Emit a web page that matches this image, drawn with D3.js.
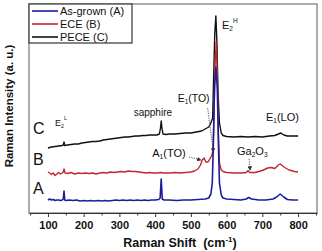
<!DOCTYPE html>
<html>
<head>
<meta charset="utf-8">
<script src="https://cdn.jsdelivr.net/npm/d3@7/dist/d3.min.js"></script>
<style>
body { margin: 0; background: #fff; }
text { font-family: Arial, "Liberation Sans", sans-serif; fill: #111; }
.tick text { font-weight: bold; font-size: 11px; }
</style>
</head>
<body>
<div id="chart"></div>
<script>
// spectra: [Raman shift (cm-1), intensity (a.u., stacked offsets included)]
var asGrown = [[100,13],[105,14],[110,13],[115,13.5],[120,12.5],[125,13],[130,13],[135,12.5],[140,13],[143,14],[145,22],[147,13],
  [150,12.5],[160,13],[170,12.5],[180,13],[190,12],[200,12.5],[210,12],[220,12.5],[230,12],[240,12.5],[250,12],[260,12.5],
  [270,12],[280,12.5],[290,13],[300,12.5],[310,13],[320,12.5],[330,13],[340,12.5],[350,13],[360,12.5],[370,13],[380,12.5],
  [390,13],[400,13],[410,13.5],[414,15],[417,34],[420,14],[425,13],[440,13],[460,12.5],[480,13],[500,13],[520,13.5],
  [540,14],[550,15],[556,19],[560,30],[563,70],[566,125],[570,146],[574,125],[577,70],[580,30],[585,18],[590,15],
  [600,14],[620,13.5],[640,13],[655,14],[662,15.5],[670,14],[690,13],[710,13],[730,14],[740,16],[750,19],[760,16],
  [770,13.5],[785,13],[800,13]];
var ece = [[100,41],[105,40],[110,38.5],[115,40],[120,37.5],[125,39],[130,40.5],[135,39],[140,40],[143,41],[145,44],[148,40],
  [155,39.5],[165,40.5],[175,39],[185,40],[195,39.5],[205,40],[215,39.5],[225,40],[235,39],[245,40],[255,40.5],[265,40],
  [275,41],[285,40.5],[295,41],[305,41.5],[315,41],[325,42],[335,41.5],[345,41.5],[355,41],[365,40.5],[375,40],[385,40.5],
  [395,40],[405,40],[415,40.5],[425,40],[440,40],[455,40.5],[470,40],[485,40.5],[500,41],[510,42],[520,44],[527,48],
  [532,53],[537,55],[542,51],[548,51],[553,54],[558,57],[562,62],[565,100],[568,150],[571,171],[574,140],[577,80],
  [580,50],[585,43],[590,41.5],[600,40.5],[620,40],[640,40],[655,40.5],[660,42.5],[665,40.5],[680,40.5],[700,42.5],
  [715,45],[725,45.5],[735,44.5],[745,48],[750,49],[757,47],[765,45],[775,43],[790,41.5],[800,41]];
var pece = [[100,65],[110,66],[120,66.5],[130,67],[140,67.5],[143,68],[145,71],[147,67.5],[155,68],[165,68.5],[175,69],
  [185,69],[195,70],[205,70.5],[215,71],[225,71.5],[235,71.5],[245,72],[255,73],[265,73.5],[275,74],[285,74.5],[295,75],
  [305,75.5],[315,76],[325,76],[335,76.5],[345,77],[355,77],[365,77.5],[375,77.5],[385,78],[395,78],[405,78],[412,79],
  [415,85],[417,92],[419,85],[422,79],[430,78.5],[440,79],[455,79],[470,79.5],[485,80],[500,80],[515,81],[530,82],
  [540,84],[550,86],[556,90],[561,95],[564,140],[567,180],[570,197],[573,170],[576,120],[580,90],[585,80],[590,77.5],
  [600,76.5],[620,76],[640,76.5],[660,76],[680,76.5],[700,76],[720,77],[735,77.5],[745,79],[752,80],[760,78],[770,77],
  [785,77],[800,77]];

var seriesNames = ["As-grown", "ECE", "PECE"];
var seriesKeys = ["(A)", "(B)", "(C)"];
var xTicks = [100, 200, 300, 400, 500, 600, 700, 800];

var W = 322, H = 251;
var m = {left: 29, right: 5, top: 4, bottom: 38};

var svg = d3.select("#chart").append("svg")
    .attr("width", W)
    .attr("height", H);

var x = d3.scaleLinear().domain([47, 853]).range([m.left, W - m.right]);
var y = d3.scaleLinear().domain([0, 209]).range([H - m.bottom, m.top]);

// frame
svg.append("rect")
    .attr("x", m.left).attr("y", m.top)
    .attr("width", W - m.right - m.left)
    .attr("height", H - m.bottom - m.top)
    .attr("fill", "none")
    .attr("stroke", "#777")
    .attr("stroke-width", 1.2);

// x axis, major + minor ticks
var xAxis = svg.append("g")
    .attr("transform", "translate(0," + (H - m.bottom) + ")")
    .call(d3.axisBottom(x).tickValues(xTicks).tickSize(4).tickSizeOuter(0).tickPadding(4));
xAxis.select(".domain").attr("stroke", "#333").attr("stroke-width", 1.2);
xAxis.selectAll(".tick line").attr("stroke", "#333");

svg.append("g")
    .attr("transform", "translate(0," + (H - m.bottom) + ")")
    .call(d3.axisBottom(x).tickValues(d3.range(50, 851, 100)).tickSize(2.5).tickFormat(""))
    .call(function(g) { g.select(".domain").remove(); })
    .selectAll(".tick line").attr("stroke", "#333");

var line = d3.line()
    .x(function(d) { return x(d[0]); })
    .y(function(d) { return y(d[1]); })
    .curve(d3.curveLinear);

var colors = ["#1c1c9e", "#c1272d", "#111111"];
var data = [asGrown, ece, pece];

// draw C first, then B, then A on top
[2, 1, 0].forEach(function(i) {
    svg.append("path")
        .datum(data[i])
        .attr("d", line)
        .attr("fill", "none")
        .attr("stroke", colors[i])
        .attr("stroke-width", i == 0 ? 1.6 : 1.4)
        .attr("stroke-linejoin", "round");
});

// curve letters
var letters = [["C", 79], ["B", 48], ["A", 19]];
letters.forEach(function(l) {
    svg.append("text")
        .attr("x", x(58)).attr("y", y(l[1]))
        .attr("font-size", 16)
        .text(l[0]);
});

// peak labels: [text, sub, sup, rest, shift, intensity, size]
var labels = [
    ["E", "2", "L", "", 120, 87, 9],
    ["sapphire", "", "", "", 340, 97, 10],
    ["E", "1", "", "(TO)", 463, 111, 10.5],
    ["E", "2", "H", "", 587, 184, 11],
    ["E", "1", "", "(LO)", 710, 92, 11],
    ["A", "1", "", "(TO)", 392, 56, 11],
    ["Ga", "2", "", "O", 629, 58, 11]
];
labels.forEach(function(l) {
    var t = svg.append("text")
        .attr("x", x(l[4])).attr("y", y(l[5]))
        .attr("font-size", l[6]);
    t.append("tspan").text(l[0]);
    if (l[1]) t.append("tspan").attr("font-size", l[6] * 0.6).attr("dy", 2).text(l[1]);
    if (l[2]) t.append("tspan").attr("font-size", l[6] * 0.6).attr("dy", -8).text(l[2]);
    if (l[3]) t.append("tspan").attr("dy", l[2] ? 6 : -2).text(l[3]);
    if (l[0] == "Ga") t.append("tspan").attr("font-size", l[6] * 0.6).attr("dy", 2).text("3");
});

// dotted arrows [from shift, from int, to shift, to int]
var arrows = [[495, 56, 528, 53], [547, 105, 563, 61], [663, 54, 666, 43]];
svg.append("defs").append("marker")
    .attr("id", "ah").attr("viewBox", "0 0 6 6")
    .attr("refX", 5).attr("refY", 3)
    .attr("markerWidth", 5).attr("markerHeight", 5)
    .attr("orient", "auto")
    .append("path").attr("d", "M0,0L6,3L0,6Z").attr("fill", "#333");
arrows.forEach(function(a) {
    svg.append("line")
        .attr("x1", x(a[0])).attr("y1", y(a[1]))
        .attr("x2", x(a[2])).attr("y2", y(a[3]))
        .attr("stroke", "#444")
        .attr("stroke-width", 0.9)
        .attr("stroke-dasharray", "1.2,1.2")
        .attr("marker-end", "url(#ah)");
});

// legend
var lg = svg.append("g");
lg.append("rect")
    .attr("x", m.left).attr("y", m.top)
    .attr("width", 103).attr("height", 39)
    .attr("fill", "#fff")
    .attr("stroke", "#444")
    .attr("stroke-width", 1.3);
seriesNames.forEach(function(n, i) {
    var yy = m.top + 7 + i * 13;
    lg.append("line")
        .attr("x1", m.left + 3).attr("x2", m.left + 29)
        .attr("y1", yy).attr("y2", yy)
        .attr("stroke", colors[i]).attr("stroke-width", 1.6);
    lg.append("text")
        .attr("x", m.left + 31).attr("y", yy + 4)
        .attr("font-size", 11)
        .text(n + " " + seriesKeys[i]);
});

// axis titles
svg.append("text")
    .attr("x", 180).attr("y", H - 4)
    .attr("text-anchor", "middle")
    .attr("font-size", 12.5)
    .attr("font-weight", "bold")
    .html("Raman Shift &#160;(cm<tspan font-size='8' dy='-5'>-1</tspan><tspan dy='5'>)</tspan>");

svg.append("text")
    .attr("transform", "translate(13," + 106 + ") rotate(-90)")
    .attr("text-anchor", "middle")
    .attr("font-size", 11.5)
    .attr("font-weight", "bold")
    .text("Raman Intensity (a. u.)");
</script>
</body>
</html>
